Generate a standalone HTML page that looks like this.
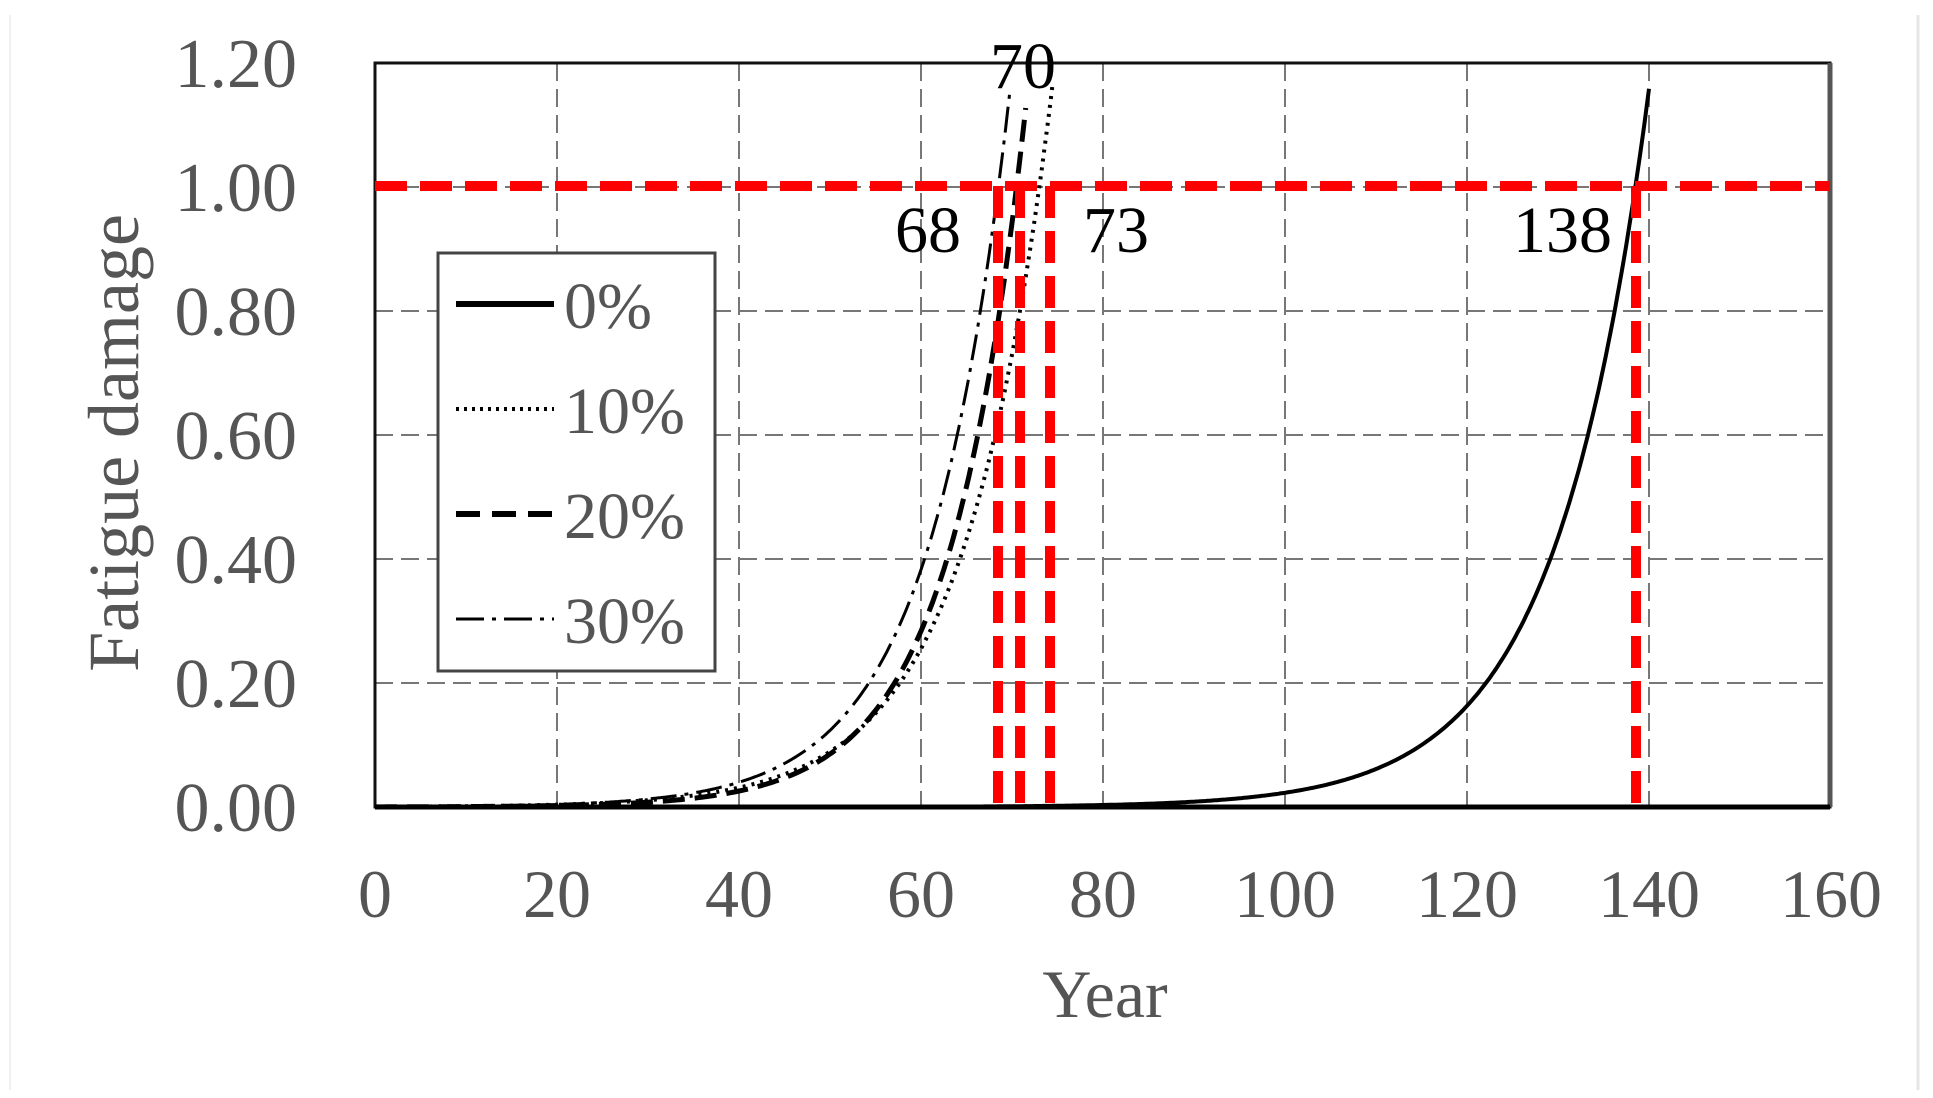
<!DOCTYPE html>
<html><head><meta charset="utf-8"><style>
html,body{margin:0;padding:0;background:#fff;}
svg{display:block;}
text{font-family:"Liberation Serif",serif;}
</style></head><body>
<svg id="s" width="1933" height="1098" viewBox="0 0 1933 1098" xmlns="http://www.w3.org/2000/svg">
<line x1="1918" y1="15" x2="1918" y2="1090" stroke="#e6e6e6" stroke-width="3"/>
<line x1="10" y1="15" x2="10" y2="1090" stroke="#f0f0f0" stroke-width="2"/>
<g id="grid" stroke="#777" stroke-width="2" stroke-dasharray="18,8"></g>
<rect x="375" y="63" width="1455" height="744" fill="none" stroke="#111" stroke-width="3"/>
<line x1="1830" y1="63" x2="1830" y2="807" stroke="#555" stroke-width="5"/>
<line x1="375" y1="807" x2="1830" y2="807" stroke="#000" stroke-width="5"/>
<g id="curves" fill="none" stroke="#000"></g>
<g stroke="#ff0000" stroke-width="10" stroke-dasharray="32,13">
<line x1="375" y1="186" x2="1830" y2="186"/>
<line x1="998" y1="186" x2="998" y2="807"/>
<line x1="1020" y1="186" x2="1020" y2="807"/>
<line x1="1050" y1="186" x2="1050" y2="807"/>
<line x1="1636" y1="186" x2="1636" y2="807"/>
</g>
<g font-size="70" fill="#555" text-anchor="end">
<text x="297" y="831">0.00</text><text x="297" y="707">0.20</text><text x="297" y="583">0.40</text>
<text x="297" y="459">0.60</text><text x="297" y="335">0.80</text><text x="297" y="211">1.00</text><text x="297" y="87">1.20</text>
</g>
<g font-size="68" fill="#555" text-anchor="middle">
<text x="375" y="917">0</text><text x="557" y="917">20</text><text x="739" y="917">40</text><text x="921" y="917">60</text>
<text x="1103" y="917">80</text><text x="1285" y="917">100</text><text x="1467" y="917">120</text><text x="1649" y="917">140</text><text x="1831" y="917">160</text>
<text x="1105" y="1017">Year</text>
<text transform="translate(138,443) rotate(-90)" font-size="72">Fatigue damage</text>
</g>
<g font-size="66" fill="#000">
<text x="990" y="88">70</text><text x="895" y="252">68</text><text x="1083" y="252">73</text><text x="1513" y="252">138</text>
</g>
<rect x="438" y="253" width="277" height="418" fill="#fff" stroke="#444" stroke-width="3"/>
<g stroke="#000" fill="none">
<line x1="456" y1="304" x2="554" y2="304" stroke-width="6"/>
<line x1="456" y1="409" x2="554" y2="409" stroke-width="4" stroke-dasharray="3,5"/>
<line x1="456" y1="514" x2="554" y2="514" stroke-width="6" stroke-dasharray="24,12"/>
<line x1="456" y1="619" x2="554" y2="619" stroke-width="3" stroke-dasharray="28,8,4,8"/>
</g>
<g font-size="66" fill="#555">
<text x="564" y="328">0%</text><text x="564" y="433">10%</text><text x="564" y="538">20%</text><text x="564" y="643">30%</text>
</g>
</svg>
<script>
var NS="http://www.w3.org/2000/svg";
function X(t){return 375+t*9.1;}function Y(d){return 807-d*620;}
var g=document.getElementById('grid');
for(var i=1;i<8;i++){var l=document.createElementNS(NS,'line');l.setAttribute('x1',X(i*20));l.setAttribute('x2',X(i*20));l.setAttribute('y1',63);l.setAttribute('y2',807);g.appendChild(l);}
for(var j=1;j<=5;j++){var l=document.createElementNS(NS,'line');l.setAttribute('y1',Y(j*0.2));l.setAttribute('y2',Y(j*0.2));l.setAttribute('x1',375);l.setAttribute('x2',1830);g.appendChild(l);}
var c=document.getElementById('curves');
function curve(t0,k,tend,w,dash){var d='';for(var t=0;t<=tend+0.001;t+=0.25){var v=Math.exp(k*(t-t0));d+=(d?'L':'M')+X(t).toFixed(1)+','+Y(v).toFixed(1);}
var p=document.createElementNS(NS,'path');p.setAttribute('d',d);p.setAttribute('stroke-width',w);if(dash)p.setAttribute('stroke-dasharray',dash);c.appendChild(p);}
curve(138.5,0.098,140,4,null);
curve(73,0.105,74.5,4,'3,6');
curve(70.5,0.12,71.5,5,'22,10');
curve(68.5,0.113,69.8,3,'26,8,4,8');
</script>
</body></html>
